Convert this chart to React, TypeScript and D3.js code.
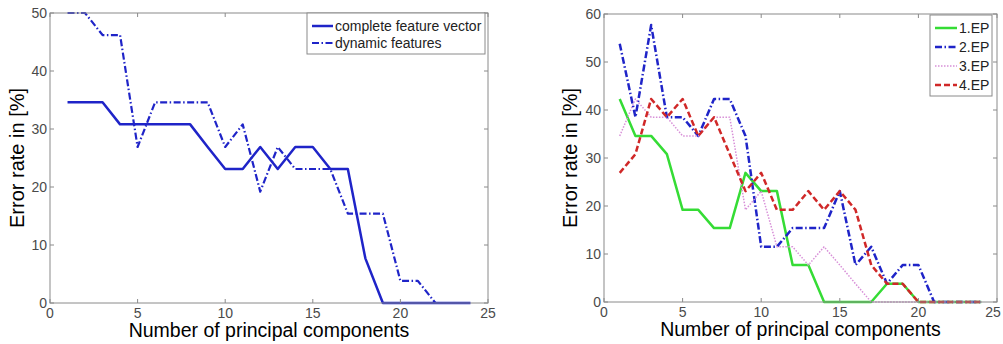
import React from "react";
import * as d3 from "d3";

const xs: number[] = [1, 2, 3, 4, 5, 6, 7, 8, 9, 10, 11, 12, 13, 14, 15, 16, 17, 18, 19, 20, 21, 22, 23, 24];

// Left chart
const completeFeature: number[] = [34.6, 34.6, 34.6, 30.8, 30.8, 30.8, 30.8, 30.8, 26.9, 23.1, 23.1, 26.9, 23.1, 26.9, 26.9, 23.1, 23.1, 7.7, 0, 0, 0, 0, 0, 0];
const dynamicFeatures: number[] = [50, 50, 46.2, 46.2, 26.9, 34.6, 34.6, 34.6, 34.6, 26.9, 30.8, 19.2, 26.9, 23.1, 23.1, 23.1, 15.4, 15.4, 15.4, 3.8, 3.8, 0, 0, 0];

// Right chart
const ep1: number[] = [42.3, 34.6, 34.6, 30.8, 19.2, 19.2, 15.4, 15.4, 26.9, 23.1, 23.1, 7.7, 7.7, 0, 0, 0, 0, 3.8, 3.8, 0, 0, 0, 0, 0];
const ep2: number[] = [53.8, 38.5, 57.7, 38.5, 38.5, 34.6, 42.3, 42.3, 34.6, 11.5, 11.5, 15.4, 15.4, 15.4, 23.1, 7.7, 11.5, 3.8, 7.7, 7.7, 0, 0, 0, 0];
const ep3: number[] = [34.6, 42.3, 38.5, 38.5, 34.6, 34.6, 38.5, 38.5, 19.2, 23.1, 11.5, 11.5, 7.7, 11.5, 7.7, 3.8, 0, 0, 0, 0, 0, 0, 0, 0];
const ep4: number[] = [26.9, 30.8, 42.3, 38.5, 42.3, 34.6, 38.5, 30.8, 23.1, 26.9, 19.2, 19.2, 23.1, 19.2, 23.1, 19.2, 7.7, 3.8, 3.8, 0, 0, 0, 0, 0];

const xTicks: number[] = [0, 5, 10, 15, 20, 25];
const leftYTicks: number[] = [0, 10, 20, 30, 40, 50];
const rightYTicks: number[] = [0, 10, 20, 30, 40, 50, 60];

const xLabel = "Number of principal components";
const yLabel = "Error rate in [%]";

const FONT = "'Liberation Sans', Arial, sans-serif";
const AXIS = "#8a8a8a";
const TXT = "#4a4a4a";

type Series = { name: string; values: number[]; color: string; width: number; dash?: string };

type PanelProps = {
  left: number; top: number; right: number; bottom: number;
  yMax: number; yTicks: number[]; series: Series[];
  legend: { x: number; y: number; w: number; h: number; rowH: number; sampleW: number; font: number };
  yLabelX: number;
  lastTickShift: number;
};

function Panel(p: PanelProps) {
  const x = d3.scaleLinear().domain([0, 25]).range([p.left, p.right]);
  const y = d3.scaleLinear().domain([0, p.yMax]).range([p.bottom, p.top]);
  const line = d3.line<[number, number]>().x((d) => x(d[0])).y((d) => y(d[1]));
  const tl = 4;
  return (
    <g>
      {p.series.map((s) => (
        <path key={s.name} d={line(xs.map((v, i) => [v, s.values[i]] as [number, number])) || ""}
          fill="none" stroke={s.color} strokeWidth={s.width} strokeDasharray={s.dash}
          strokeLinejoin="round" />
      ))}
      <rect x={p.left} y={p.top} width={p.right - p.left} height={p.bottom - p.top} fill="none" stroke={AXIS} strokeWidth={1} />
      {xTicks.map((t, i) => (
        <g key={"x" + t}>
          <line x1={x(t)} x2={x(t)} y1={p.bottom} y2={p.bottom - tl} stroke={AXIS} />
          <line x1={x(t)} x2={x(t)} y1={p.top} y2={p.top + tl} stroke={AXIS} />
          <text x={x(t) - (i === xTicks.length - 1 ? p.lastTickShift : 0)} y={p.bottom + 15} textAnchor="middle" fontSize={14} fill={TXT} fontFamily={FONT}>{t}</text>
        </g>
      ))}
      {p.yTicks.map((t) => (
        <g key={"y" + t}>
          <line x1={p.left} x2={p.left + tl} y1={y(t)} y2={y(t)} stroke={AXIS} />
          <line x1={p.right} x2={p.right - tl} y1={y(t)} y2={y(t)} stroke={AXIS} />
          <text x={p.left - 3} y={y(t) + 5} textAnchor="end" fontSize={14} fill={TXT} fontFamily={FONT}>{t}</text>
        </g>
      ))}
      <text x={(p.left + p.right) / 2} y={p.bottom + 34} textAnchor="middle" fontSize={19.5} fill="#000" fontFamily={FONT}>{xLabel}</text>
      <text transform={`translate(${p.yLabelX},${(p.top + p.bottom) / 2}) rotate(-90)`} textAnchor="middle" fontSize={20} fill="#000" fontFamily={FONT}>{yLabel}</text>
      <g>
        <rect x={p.legend.x} y={p.legend.y} width={p.legend.w} height={p.legend.h} fill="#fff" stroke={AXIS} />
        {p.series.map((s, i) => {
          const cy = p.legend.y + 13 + i * p.legend.rowH;
          return (
            <g key={"l" + s.name}>
              <line x1={p.legend.x + 5} x2={p.legend.x + 5 + p.legend.sampleW} y1={cy} y2={cy} stroke={s.color} strokeWidth={s.width} strokeDasharray={s.dash} />
              <text x={p.legend.x + 7 + p.legend.sampleW} y={cy + 5} fontSize={p.legend.font} fill="#222" fontFamily={FONT}>{s.name}</text>
            </g>
          );
        })}
      </g>
    </g>
  );
}

export default function App() {
  const leftSeries: Series[] = [
    { name: "complete feature vector", values: completeFeature, color: "#1f24c8", width: 2.5 },
    { name: "dynamic features", values: dynamicFeatures, color: "#1f24c8", width: 2.2, dash: "7,2.5,1.5,2.5" },
  ];
  const rightSeries: Series[] = [
    { name: "1.EP", values: ep1, color: "#35dc35", width: 2.5 },
    { name: "2.EP", values: ep2, color: "#1f24c8", width: 2.5, dash: "7,2.5,1.5,2.5" },
    { name: "3.EP", values: ep3, color: "#d890d8", width: 1.5, dash: "1.5,1.5" },
    { name: "4.EP", values: ep4, color: "#d02828", width: 2.5, dash: "6,3" },
  ];
  return (
    <svg width={1003} height={344} style={{ position: "absolute", left: 0, top: 0 }}>
      <rect width={1003} height={344} fill="#fff" />
      <Panel left={50} top={13} right={488} bottom={303} yMax={50} yTicks={leftYTicks} series={leftSeries}
        legend={{ x: 307, y: 13, w: 178, h: 41, rowH: 17, sampleW: 21, font: 14 }} yLabelX={24} lastTickShift={0} />
      <Panel left={604} top={14} right={997} bottom={302} yMax={60} yTicks={rightYTicks} series={rightSeries}
        legend={{ x: 930, y: 15, w: 62, h: 81, rowH: 19, sampleW: 22, font: 14 }} yLabelX={577} lastTickShift={4} />
    </svg>
  );
}
